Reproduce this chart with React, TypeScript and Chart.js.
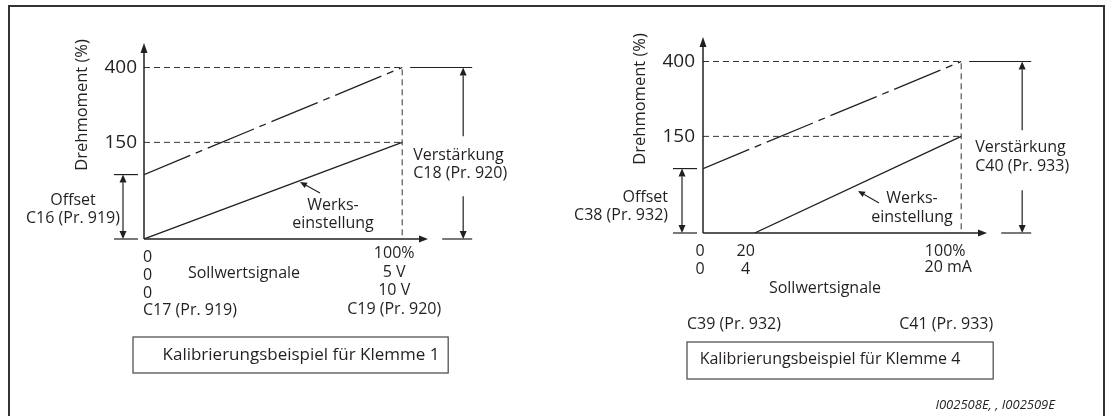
import React, { useEffect, useRef } from 'react';
import { Chart, LinearScale, registerables } from 'chart.js';

// ---------------- data ----------------
const signalK1 = [0, 100];            // Sollwertsignal (%) – Klemme 1
const werksK1 = [0, 150];             // Werkseinstellung Drehmoment (%)
const gainK1 = [100, 400];            // Offset -> Verstärkung (%)
const signalK4 = [20, 100];           // Sollwertsignal (%) – Klemme 4
const werksK4 = [0, 150];
const signalK4Gain = [0, 100];
const gainK4 = [100, 400];
const fullScale = 100;
const offsetValue = 100;
const gainValue = 400;
const yTickValues = [150, 400];
const yTickLabels = ['150', '400'];
const yTitle = 'Drehmoment (%)';
const xTitle = 'Sollwertsignale';
const k1ZeroLabels = ['0', '0', '0', 'C17 (Pr. 919)'];
const k1FullLabels = ['100%', '5 V', '10 V', 'C19 (Pr. 920)'];
const k4ZeroLabels = ['0', '0'];
const k4StartLabels = ['20', '4'];
const k4FullLabels = ['100%', '20 mA'];
const k4BiasLabels = ['C39 (Pr. 932)', 'C41 (Pr. 933)'];
const k1OffsetLabels = ['Offset', 'C16 (Pr. 919)'];
const k1GainLabels = ['Verstärkung', 'C18 (Pr. 920)'];
const k4OffsetLabels = ['Offset', 'C38 (Pr. 932)'];
const k4GainLabels = ['Verstärkung', 'C40 (Pr. 933)'];
const werksLabels = ['Werks-', 'einstellung'];
const boxTitles = ['Kalibrierungsbeispiel für Klemme 1', 'Kalibrierungsbeispiel für Klemme 4'];
const footerText = 'I002508E, , I002509E';

// ---------------- schematic (broken) y scale ----------------
const BREAK_VALUES = [0, 150, 400, 460];
const BREAK_DECIMALS = [0, 0.493, 0.875, 1];

function valueToDecimal(v: number) {
  for (let i = 1; i < BREAK_VALUES.length; i++) {
    if (v <= BREAK_VALUES[i] || i === BREAK_VALUES.length - 1) {
      const t = (v - BREAK_VALUES[i - 1]) / (BREAK_VALUES[i] - BREAK_VALUES[i - 1]);
      return BREAK_DECIMALS[i - 1] + t * (BREAK_DECIMALS[i] - BREAK_DECIMALS[i - 1]);
    }
  }
  return 0;
}
function decimalToValue(d: number) {
  for (let i = 1; i < BREAK_DECIMALS.length; i++) {
    if (d <= BREAK_DECIMALS[i] || i === BREAK_DECIMALS.length - 1) {
      const t = (d - BREAK_DECIMALS[i - 1]) / (BREAK_DECIMALS[i] - BREAK_DECIMALS[i - 1]);
      return BREAK_VALUES[i - 1] + t * (BREAK_VALUES[i] - BREAK_VALUES[i - 1]);
    }
  }
  return 0;
}

class BrokenLinearScale extends LinearScale {
  static id = 'brokenLinear';
  static defaults = LinearScale.defaults;
  getPixelForValue(value: number) {
    return this.getPixelForDecimal(valueToDecimal(value));
  }
  getValueForPixel(pixel: number) {
    return decimalToValue(this.getDecimalForPixel(pixel));
  }
}

Chart.register(...registerables, BrokenLinearScale as any);

// ---------------- drawing helpers ----------------
const INK = '#231f20';
const FONT = '"Open Sans", sans-serif';

function seg(ctx: CanvasRenderingContext2D, x1: number, y1: number, x2: number, y2: number, w = 1.2) {
  ctx.save();
  ctx.strokeStyle = INK;
  ctx.lineWidth = w;
  ctx.setLineDash([]);
  ctx.beginPath();
  ctx.moveTo(x1, y1);
  ctx.lineTo(x2, y2);
  ctx.stroke();
  ctx.restore();
}
function head(ctx: CanvasRenderingContext2D, tipX: number, tipY: number, fromX: number, fromY: number, len = 9, half = 3.5) {
  const dx = tipX - fromX, dy = tipY - fromY;
  const d = Math.hypot(dx, dy) || 1;
  const ux = dx / d, uy = dy / d;
  const bx = tipX - ux * len, by = tipY - uy * len;
  ctx.save();
  ctx.fillStyle = INK;
  ctx.beginPath();
  ctx.moveTo(tipX, tipY);
  ctx.lineTo(bx - uy * half, by + ux * half);
  ctx.lineTo(bx + uy * half, by - ux * half);
  ctx.closePath();
  ctx.fill();
  ctx.restore();
}
function txt(ctx: CanvasRenderingContext2D, s: string, x: number, y: number, align: CanvasTextAlign = 'center', size = 16, style = '') {
  ctx.save();
  ctx.fillStyle = INK;
  ctx.font = `${style}${size}px ${FONT}`;
  ctx.textAlign = align;
  ctx.textBaseline = 'middle';
  ctx.fillText(s, x, y);
  ctx.restore();
}

function drawCommon(chart: any, cfg: any) {
  const { ctx, chartArea: a } = chart;
  const xs = chart.scales.x, ys = chart.scales.y;
  const X0 = xs.getPixelForValue(0), X100 = xs.getPixelForValue(fullScale);
  const Y0 = ys.getPixelForValue(0), Y150 = ys.getPixelForValue(yTickValues[0]);
  const Ygain = ys.getPixelForValue(gainValue), Yoff = ys.getPixelForValue(offsetValue);

  // axes with arrows
  seg(ctx, X0, Y0, X0, a.top + 8, 1.5);
  head(ctx, X0, a.top, X0, Y0, 10, 3.5);
  seg(ctx, X0, Y0, a.right - 7, Y0, 1.5);
  head(ctx, a.right, Y0, X0, Y0, 9, 3.5);

  // y tick labels
  yTickValues.forEach((v, i) => txt(ctx, yTickLabels[i], X0 + cfg.tickDx, ys.getPixelForValue(v), 'right', 19));

  // y title
  ctx.save();
  ctx.translate(X0 + cfg.titleDx, (Ygain + Y150) / 2);
  ctx.rotate(-Math.PI / 2);
  txt(ctx, yTitle, 0, 0, 'center', 16.5);
  ctx.restore();

  // offset bracket
  seg(ctx, X0 - 30, Yoff, X0 - 6, Yoff);
  seg(ctx, X0 - 30, Y0, X0 - 6, Y0);
  seg(ctx, X0 - 21, Yoff + 8, X0 - 21, Y0 - 8);
  head(ctx, X0 - 21, Yoff, X0 - 21, Y0, 8, 3.5);
  head(ctx, X0 - 21, Y0, X0 - 21, Yoff, 8, 3.5);
  txt(ctx, cfg.offsetLabels[0], X0 + cfg.offsetTextDx, Yoff + cfg.offsetTextDy[0], cfg.offsetAlign);
  txt(ctx, cfg.offsetLabels[1], X0 + cfg.offsetTextDx, Yoff + cfg.offsetTextDy[1], cfg.offsetAlign);

  // gain bracket
  seg(ctx, X100 + 8, Ygain, X100 + 70, Ygain);
  seg(ctx, X100 + 40, Y0, X100 + 70, Y0);
  const ax = X100 + 61;
  seg(ctx, ax, Ygain + 8, ax, Y150 - 6);
  seg(ctx, ax, Y150 + 54, ax, Y0 - 8);
  head(ctx, ax, Ygain, ax, Y0, 8, 3.5);
  head(ctx, ax, Y0, ax, Ygain, 8, 3.5);
  txt(ctx, cfg.gainLabels[0], X100 + cfg.gainTextDx, Y150 + cfg.gainTextDy[0], 'left');
  txt(ctx, cfg.gainLabels[1], X100 + cfg.gainTextDx, Y150 + cfg.gainTextDy[1], 'left');

  // Werkseinstellung pointer
  const hx = X0 + cfg.werksHead[0], hy = Y0 + cfg.werksHead[1];
  const tx = X0 + cfg.werksTail[0], ty = Y0 + cfg.werksTail[1];
  seg(ctx, tx, ty, hx + (tx - hx) * 0.3, hy + (ty - hy) * 0.3, 1.1);
  head(ctx, hx, hy, tx, ty, 7, 3);
  txt(ctx, werksLabels[0], X0 + cfg.werksText[0], Y0 + cfg.werksText[1]);
  txt(ctx, werksLabels[1], X0 + cfg.werksText[0], Y0 + cfg.werksText[2]);

  // caption box
  const b = cfg.box;
  ctx.save();
  ctx.strokeStyle = '#444';
  ctx.lineWidth = 1.2;
  ctx.strokeRect(X0 + b.x1, Y0 + b.y1, X100 + b.x2 - (X0 + b.x1), b.y2 - b.y1);
  ctx.restore();
  txt(ctx, cfg.boxTitle, X0 + b.tx, Y0 + b.ty, 'center', b.size);

  return { X0, X100, Y0, xs };
}

function makeConfig(datasets: any[], padding: any, plugin: any) {
  return {
    type: 'line',
    data: { datasets },
    options: {
      animation: false,
      responsive: false,
      devicePixelRatio: 1,
      events: [],
      layout: { padding },
      plugins: { legend: { display: false }, tooltip: { enabled: false } },
      elements: { point: { radius: 0 }, line: { tension: 0 } },
      scales: {
        x: { type: 'linear', min: 0, max: 110, display: false },
        y: { type: 'brokenLinear', min: 0, max: 460, display: false },
      },
    },
    plugins: [plugin],
  } as any;
}

function pts(xs: number[], ys: number[]) {
  return xs.map((x, i) => ({ x, y: ys[i] }));
}

function guideSets() {
  return [
    {
      data: [{ x: 0, y: gainValue }, { x: fullScale, y: gainValue }, { x: fullScale, y: 0 }],
      borderColor: '#333', borderWidth: 1, borderDash: [6, 4], fill: false,
    },
    {
      data: [{ x: 0, y: yTickValues[0] }, { x: fullScale, y: yTickValues[0] }],
      borderColor: '#333', borderWidth: 1, borderDash: [6, 4], fill: false,
    },
  ];
}

export default function App() {
  const ref1 = useRef<HTMLCanvasElement>(null);
  const ref2 = useRef<HTMLCanvasElement>(null);

  useEffect(() => {
    const plugin1 = {
      id: 'k1annot',
      afterDraw(chart: any) {
        const cfg = {
          tickDx: -7, titleDx: -62,
          offsetLabels: k1OffsetLabels, offsetTextDx: -71, offsetTextDy: [26, 44], offsetAlign: 'center',
          gainLabels: k1GainLabels, gainTextDx: 11, gainTextDy: [13, 31],
          werksHead: [156, -57], werksTail: [176, -46], werksText: [189, -34, -16],
          box: { x1: -11, x2: 46, y1: 98, y2: 134, tx: 157, ty: 116, size: 17 },
          boxTitle: boxTitles[0],
        };
        const { ctx } = chart;
        const { X0, X100, Y0 } = drawCommon(chart, cfg);
        const rows = [18, 36, 54, 71];
        k1ZeroLabels.forEach((s, i) => txt(ctx, s, X0 - 1, Y0 + rows[i], 'left'));
        const rows2 = [14, 33, 51, 70];
        k1FullLabels.forEach((s, i) => txt(ctx, s, X100 - 8, Y0 + rows2[i], 'center'));
        txt(ctx, xTitle, X0 + 100, Y0 + 34);
      },
    };
    const plugin2 = {
      id: 'k4annot',
      afterDraw(chart: any) {
        const cfg = {
          tickDx: -8, titleDx: -63,
          offsetLabels: k4OffsetLabels, offsetTextDx: -35, offsetTextDy: [29, 47], offsetAlign: 'right',
          gainLabels: k4GainLabels, gainTextDx: 14, gainTextDy: [11, 30],
          werksHead: [155, -42], werksTail: [176, -30], werksText: [209, -35, -16],
          box: { x1: -16, x2: 32, y1: 109, y2: 146, tx: 127, ty: 126, size: 16 },
          boxTitle: boxTitles[1],
        };
        const { ctx } = chart;
        const { X0, X100, Y0, xs } = drawCommon(chart, cfg);
        const X20 = xs.getPixelForValue(signalK4[0]);
        const rows = [18, 36];
        k4ZeroLabels.forEach((s, i) => txt(ctx, s, X0 - 3, Y0 + rows[i]));
        k4StartLabels.forEach((s, i) => txt(ctx, s, X20 - 9, Y0 + rows[i]));
        txt(ctx, k4FullLabels[0], X100 - 16, Y0 + 18);
        txt(ctx, k4FullLabels[1], X100 - 13, Y0 + 34);
        txt(ctx, xTitle, X0 + 122, Y0 + 55);
        txt(ctx, k4BiasLabels[0], X0 - 16, Y0 + 91, 'left');
        txt(ctx, k4BiasLabels[1], X100 + 32, Y0 + 91, 'right');
        txt(ctx, footerText, chart.width - 51, 405, 'right', 13, 'italic ');
      },
    };

    const ds1 = [
      ...guideSets(),
      { data: pts(signalK1, werksK1), borderColor: INK, borderWidth: 1.3, fill: false },
      { data: pts(signalK1, gainK1), borderColor: INK, borderWidth: 1.3, borderDash: [50, 6, 7, 6], fill: false },
    ];
    const ds2 = [
      ...guideSets(),
      { data: pts(signalK4, werksK4), borderColor: INK, borderWidth: 1.3, fill: false },
      { data: pts(signalK4Gain, gainK4), borderColor: INK, borderWidth: 1.3, borderDash: [50, 6, 7, 6], fill: false },
    ];

    const c1 = new Chart(ref1.current!, makeConfig(ds1, { left: 144, top: 43, right: 125, bottom: 177 }, plugin1));
    const c2 = new Chart(ref2.current!, makeConfig(ds2, { left: 150, top: 37, right: 119, bottom: 183 }, plugin2));
    return () => {
      c1.destroy();
      c2.destroy();
    };
  }, []);

  return (
    <div style={{ position: 'absolute', left: 0, top: 0, width: 1106, height: 416, overflow: 'hidden', background: '#fff' }}>
      <div
        style={{
          position: 'absolute', left: 8, top: 5, width: 1097, height: 411,
          boxSizing: 'border-box', border: '2px solid #333', borderBottom: 'none',
        }}
      />
      <canvas ref={ref1} width={553} height={416} style={{ position: 'absolute', left: 0, top: 0, width: 553, height: 416 }} />
      <canvas ref={ref2} width={553} height={416} style={{ position: 'absolute', left: 553, top: 0, width: 553, height: 416 }} />
    </div>
  );
}
